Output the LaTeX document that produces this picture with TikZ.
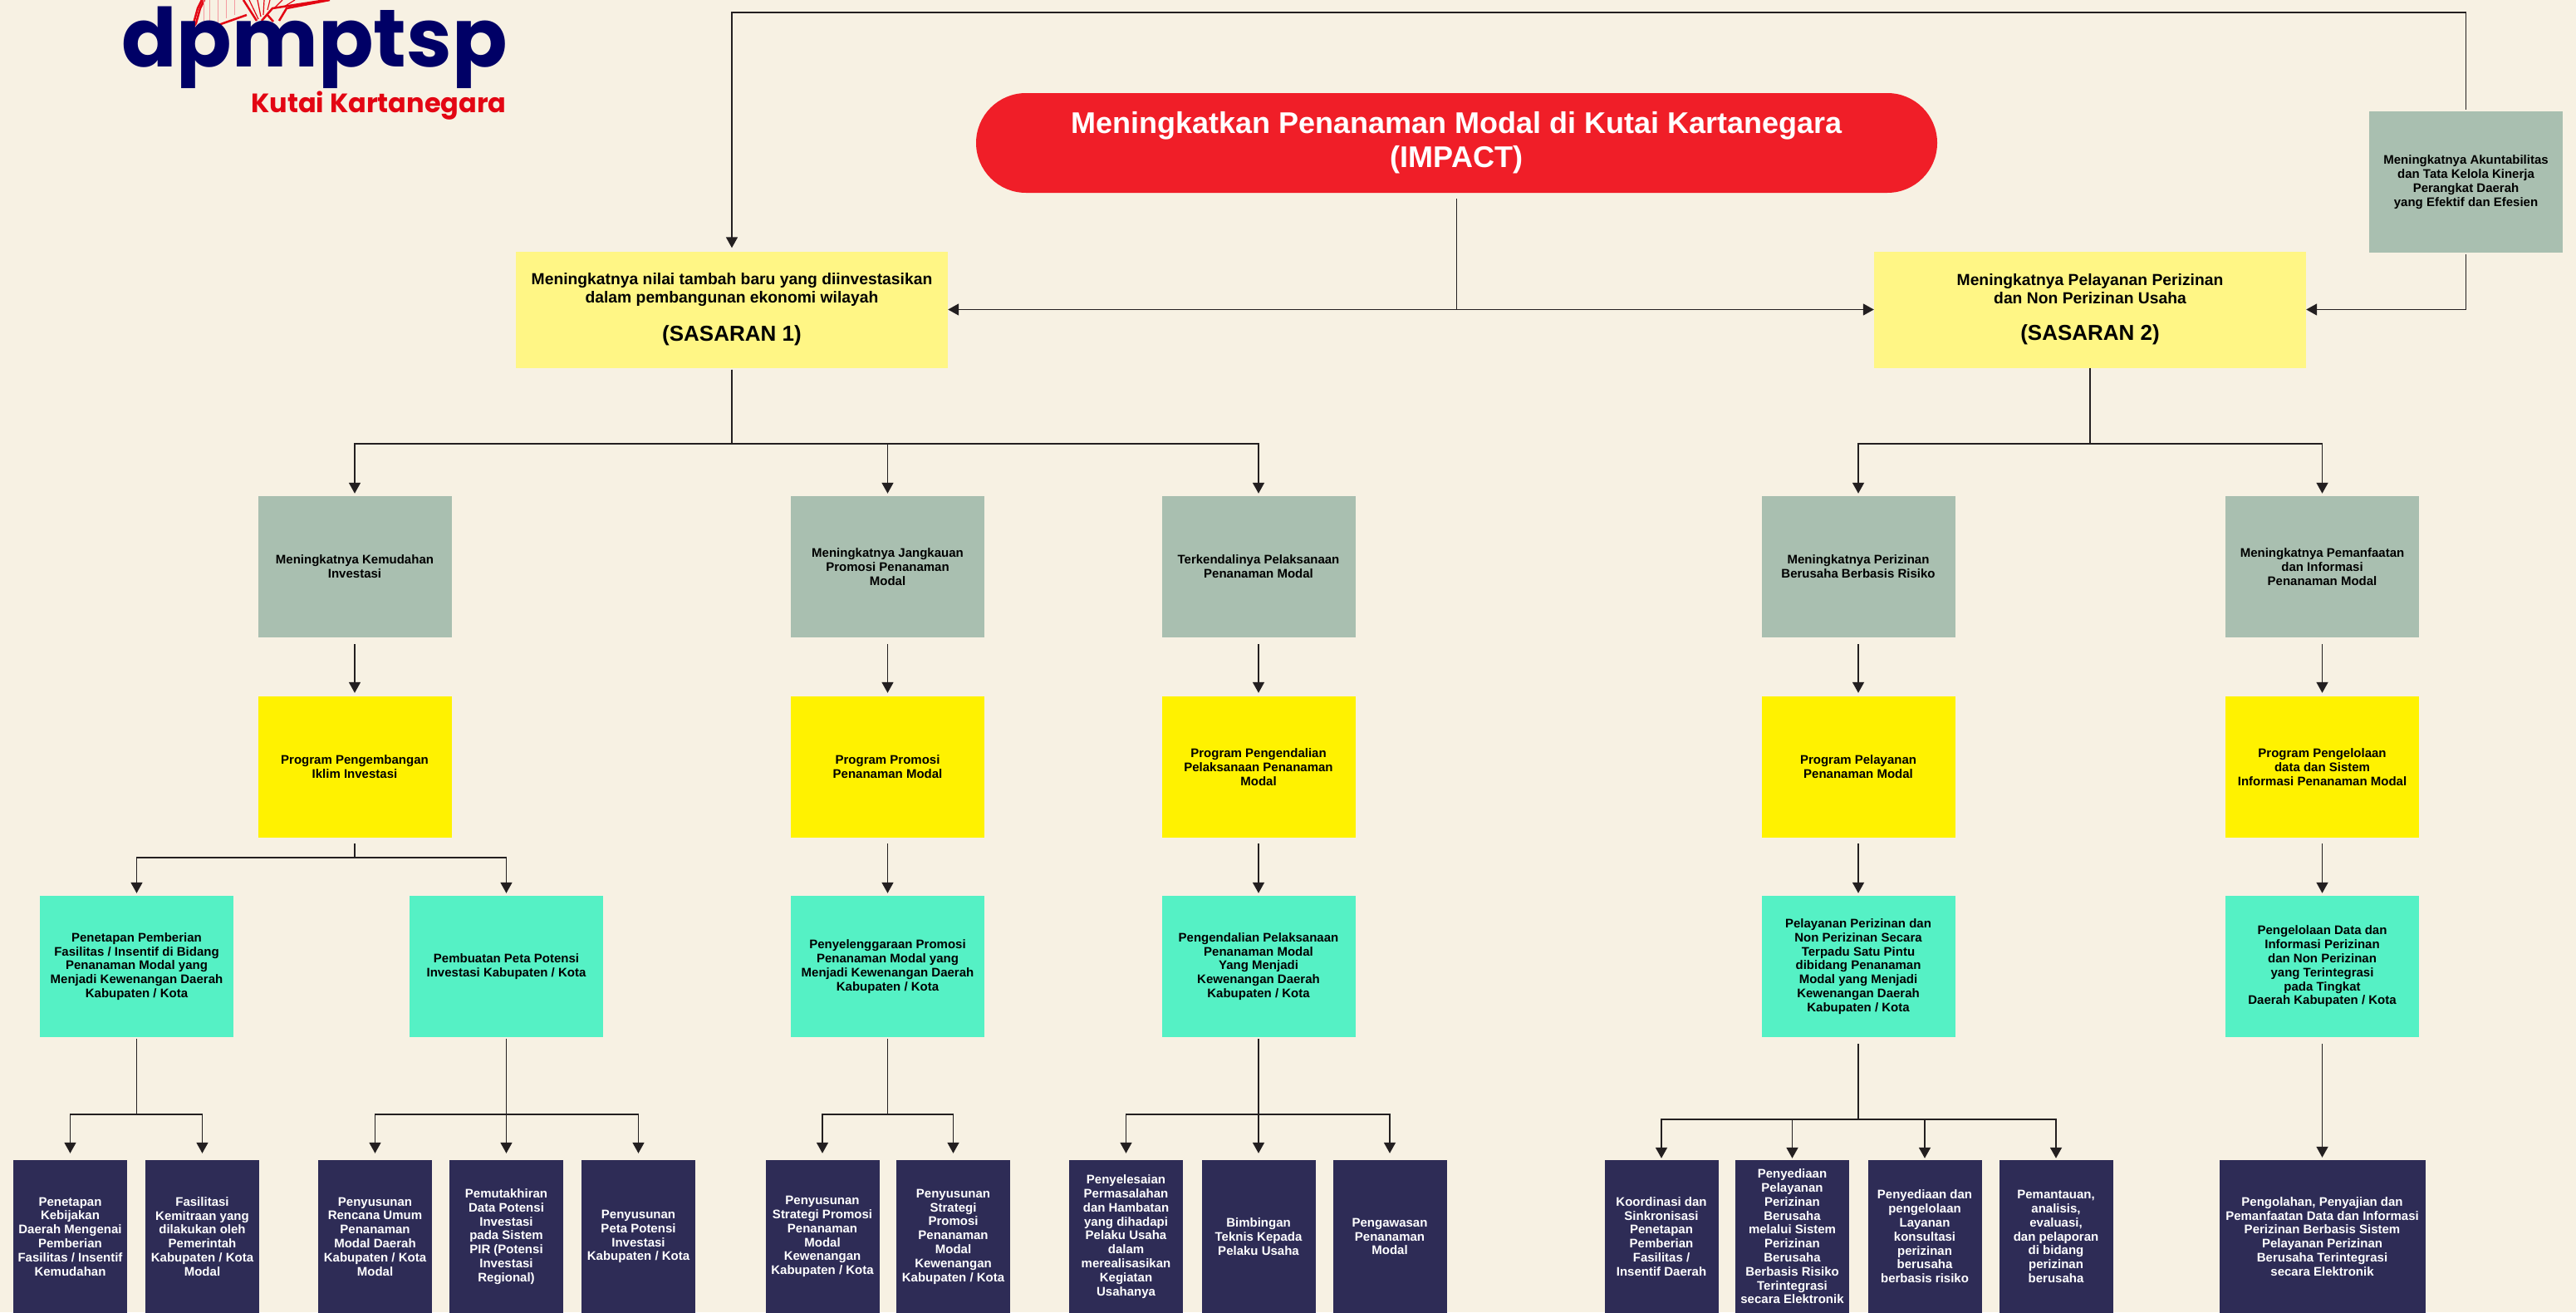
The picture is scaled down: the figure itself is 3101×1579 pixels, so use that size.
\documentclass[tikz,border=0pt]{standalone}
\usepackage{fontspec}
\usepackage{xcolor}
\setmainfont{Liberation Sans}
\newfontfamily\logofont{Poppins}
\usetikzlibrary{arrows.meta}
\definecolor{paper}{HTML}{F7F1E3}
\definecolor{impactred}{HTML}{F01E28}
\definecolor{softyellow}{HTML}{FFF685}
\definecolor{sagegray}{HTML}{A9BFB0}
\definecolor{progyellow}{HTML}{FFF200}
\definecolor{mintgreen}{HTML}{55F1C5}
\definecolor{darknavy}{HTML}{2E2C56}
\definecolor{wirecol}{HTML}{231F20}
\definecolor{logonavy}{HTML}{000066}
\definecolor{logored}{HTML}{E30613}

\begin{document}
\begin{tikzpicture}[x=1pt,y=-1pt]
\tikzset{box/.style={rectangle, inner sep=0pt, align=center, font=\bfseries\fontsize{15}{16.8}\selectfont}}
\tikzset{sasaran/.style={box, fill=softyellow, minimum width=520pt, minimum height=140pt, font=\bfseries\fontsize{19.3}{22}\selectfont}}
\tikzset{graybox/.style={box, fill=sagegray, minimum width=233pt, minimum height=170pt}}
\tikzset{progbox/.style={box, fill=progyellow, minimum width=233pt, minimum height=170pt}}
\tikzset{mintbox/.style={box, fill=mintgreen, minimum width=233pt, minimum height=170pt}}
\tikzset{navybox/.style={box, fill=darknavy, text=white, minimum width=137pt, minimum height=184pt}}
\tikzset{wire/.style={draw=wirecol, line width=1.7pt}}
\tikzset{arrow/.style={wire, -{Stealth[length=13pt,width=14pt,inset=0pt]}}}
\path[use as bounding box,clip] (0,0) rectangle (3101,1579);
\fill[paper] (0,0) rectangle (3101,1579);

\draw[logored, line width=2.5pt] (223,40) -- (233,28) -- (238,10) -- (243,0);
\draw[logored, line width=2.5pt] (228,40) -- (236,28) -- (241,10) -- (246,0);
\draw[logored!40, line width=1pt] (245,0) -- (245,25) (252,0) -- (252,28) (262,0) -- (262,28) (272,0) -- (272,22) (282,0) -- (282,18);
\draw[logored, line width=2.5pt] (263,30) -- (297,18);
\draw[logored, line width=2.5pt] (293,0) -- (309,25);
\draw[logored, line width=1.2pt] (300,0) -- (311,23) (310,0) -- (314,20) (318,0) -- (317,18) (325,0) -- (322,12) (340,0) -- (330,10) (355,0) -- (342,8);
\draw[logored, line width=2.5pt] (315,25) -- (328,10) -- (393,0);
\draw[logored, line width=2.5pt] (322,18) -- (329,26);
\draw[logored, line width=2.5pt] (336,25) -- (345,10) -- (397,0);
\node[text=logonavy, font=\logofont\bfseries\fontsize{98}{98}\selectfont, inner sep=0pt] (logotop) at (378.5,57) {dpmptsp};
\node[text=logored, font=\logofont\bfseries\fontsize{32}{32}\selectfont, inner sep=0pt] (logobot) at (456,127) {Kutai Kartanegara};

\node[fill=impactred, text=white, rounded corners=60pt, minimum width=1157pt, minimum height=120pt, inner sep=0pt, align=center, font=\bfseries\fontsize{36}{41}\selectfont] (impact) at (1753.5,172) {Meningkatkan Penanaman Modal di Kutai Kartanegara\\(IMPACT)};

\node[sasaran] (s1) at (881,372.5) {Meningkatnya nilai tambah baru yang diinvestasikan\\dalam pembangunan ekonomi wilayah\\[22pt]{\fontsize{26}{30}\selectfont (SASARAN 1)}};
\node[sasaran] (s2) at (2516,372.5) {Meningkatnya Pelayanan Perizinan\\dan Non Perizinan Usaha\\[22pt]{\fontsize{26}{30}\selectfont (SASARAN 2)}};
\node[graybox] (akun) at (2968.5,219) {Meningkatnya Akuntabilitas\\dan Tata Kelola Kinerja\\Perangkat Daerah\\yang Efektif dan Efesien};

\node[graybox] (g1) at (427,682) {Meningkatnya Kemudahan\\Investasi};
\node[graybox] (g2) at (1068.5,682) {Meningkatnya Jangkauan\\Promosi Penanaman\\Modal};
\node[graybox] (g3) at (1515,682) {Terkendalinya Pelaksanaan\\Penanaman Modal};
\node[graybox] (g4) at (2237,682) {Meningkatnya Perizinan\\Berusaha Berbasis Risiko};
\node[graybox] (g5) at (2795.5,682) {Meningkatnya Pemanfaatan\\dan Informasi\\Penanaman Modal};

\node[progbox] (y1) at (427,923) {Program Pengembangan\\Iklim Investasi};
\node[progbox] (y2) at (1068.5,923) {Program Promosi\\Penanaman Modal};
\node[progbox] (y3) at (1515,923) {Program Pengendalian\\Pelaksanaan Penanaman\\Modal};
\node[progbox] (y4) at (2237,923) {Program Pelayanan\\Penanaman Modal};
\node[progbox] (y5) at (2795.5,923) {Program Pengelolaan\\data dan Sistem\\Informasi Penanaman Modal};

\node[mintbox] (m1) at (164.5,1163) {Penetapan Pemberian\\Fasilitas / Insentif di Bidang\\Penanaman Modal yang\\Menjadi Kewenangan Daerah\\Kabupaten / Kota};
\node[mintbox] (m2) at (609.5,1163) {Pembuatan Peta Potensi\\Investasi Kabupaten / Kota};
\node[mintbox] (m3) at (1068.5,1163) {Penyelenggaraan Promosi\\Penanaman Modal yang\\Menjadi Kewenangan Daerah\\Kabupaten / Kota};
\node[mintbox] (m4) at (1515,1163) {Pengendalian Pelaksanaan\\Penanaman Modal\\Yang Menjadi\\Kewenangan Daerah\\Kabupaten / Kota};
\node[mintbox] (m5) at (2237,1163) {Pelayanan Perizinan dan\\Non Perizinan Secara\\Terpadu Satu Pintu\\dibidang Penanaman\\Modal yang Menjadi\\Kewenangan Daerah\\Kabupaten / Kota};
\node[mintbox] (m6) at (2795.5,1163) {Pengelolaan Data dan\\Informasi Perizinan\\dan Non Perizinan\\yang Terintegrasi\\pada Tingkat\\Daerah Kabupaten / Kota};

\node[navybox] (n1) at (84.5,1488) {Penetapan\\Kebijakan\\Daerah Mengenai\\Pemberian\\Fasilitas / Insentif\\Kemudahan};
\node[navybox] (n2) at (243.5,1488) {Fasilitasi\\Kemitraan yang\\dilakukan oleh\\Pemerintah\\Kabupaten / Kota\\Modal};
\node[navybox] (n3) at (451.5,1488) {Penyusunan\\Rencana Umum\\Penanaman\\Modal Daerah\\Kabupaten / Kota\\Modal};
\node[navybox] (n4) at (609.5,1488) {Pemutakhiran\\Data Potensi\\Investasi\\pada Sistem\\PIR (Potensi\\Investasi\\Regional)};
\node[navybox] (n5) at (768.5,1488) {Penyusunan\\Peta Potensi\\Investasi\\Kabupaten / Kota};
\node[navybox] (n6) at (990,1488) {Penyusunan\\Strategi Promosi\\Penanaman\\Modal\\Kewenangan\\Kabupaten / Kota};
\node[navybox] (n7) at (1147.5,1488) {Penyusunan\\Strategi\\Promosi\\Penanaman\\Modal\\Kewenangan\\Kabupaten / Kota};
\node[navybox] (n8) at (1355.5,1488) {Penyelesaian\\Permasalahan\\dan Hambatan\\yang dihadapi\\Pelaku Usaha\\dalam\\merealisasikan\\Kegiatan\\Usahanya};
\node[navybox] (n9) at (1515,1488) {Bimbingan\\Teknis Kepada\\Pelaku Usaha};
\node[navybox] (n10) at (1673,1488) {Pengawasan\\Penanaman\\Modal};
\node[navybox] (n11) at (2000,1488) {Koordinasi dan\\Sinkronisasi\\Penetapan\\Pemberian\\Fasilitas /\\Insentif Daerah};
\node[navybox] (n12) at (2157.5,1488) {Penyediaan\\Pelayanan\\Perizinan\\Berusaha\\melalui Sistem\\Perizinan\\Berusaha\\Berbasis Risiko\\Terintegrasi\\secara Elektronik};
\node[navybox] (n13) at (2317,1488) {Penyediaan dan\\pengelolaan\\Layanan\\konsultasi\\perizinan\\berusaha\\berbasis risiko};
\node[navybox] (n14) at (2475,1488) {Pemantauan,\\analisis,\\evaluasi,\\dan pelaporan\\di bidang\\perizinan\\berusaha};
\node[navybox, minimum width=248pt] (n15) at (2795.5,1488) {Pengolahan, Penyajian dan\\Pemanfaatan Data dan Informasi\\Perizinan Berbasis Sistem\\Pelayanan Perizinan\\Berusaha Terintegrasi\\secara Elektronik};

\coordinate (topl) at (881,15);
\coordinate (topr) at (2968.5,15);
\coordinate (mid) at (1753.5,372.5);
\coordinate (bus1) at (881,534);
\coordinate (bus2) at (2516,534);
\coordinate (bus3) at (427,1032);
\coordinate (bus4) at (164.5,1341);
\coordinate (bus5) at (609.5,1341);
\coordinate (bus6) at (1068.5,1341);
\coordinate (bus7) at (1515,1341);
\coordinate (bus8) at (2237,1347);

\draw[arrow, shorten <=2pt, shorten >=4pt] (akun.north) -- (topr) -- (topl) -- (s1.north);
\draw[arrow, shorten <=2pt] (akun.south) |- (s2.east);
\draw[wire, shorten <=7pt] (impact.south) -- (mid);
\draw[arrow] (mid) -- (s1.east);
\draw[arrow] (mid) -- (s2.west);

\draw[wire, shorten <=2pt] (s1.south) -- (bus1);
\draw[arrow, shorten >=3pt] (bus1) -| (g1.north);
\draw[arrow, shorten >=3pt] (bus1) -| (g2.north);
\draw[arrow, shorten >=3pt] (bus1) -| (g3.north);
\draw[wire] (s2.south) -- (bus2);
\draw[arrow, shorten >=3pt] (bus2) -| (g4.north);
\draw[arrow, shorten >=3pt] (bus2) -| (g5.north);

\draw[arrow, shorten <=8pt, shorten >=4pt] (g1.south) -- (y1.north);
\draw[arrow, shorten <=8pt, shorten >=4pt] (g2.south) -- (y2.north);
\draw[arrow, shorten <=8pt, shorten >=4pt] (g3.south) -- (y3.north);
\draw[arrow, shorten <=8pt, shorten >=4pt] (g4.south) -- (y4.north);
\draw[arrow, shorten <=8pt, shorten >=4pt] (g5.south) -- (y5.north);

\draw[wire, shorten <=7pt] (y1.south) -- (bus3);
\draw[arrow, shorten >=3pt] (bus3) -| (m1.north);
\draw[arrow, shorten >=3pt] (bus3) -| (m2.north);
\draw[arrow, shorten <=7pt, shorten >=3pt] (y2.south) -- (m3.north);
\draw[arrow, shorten <=7pt, shorten >=3pt] (y3.south) -- (m4.north);
\draw[arrow, shorten <=7pt, shorten >=3pt] (y4.south) -- (m5.north);
\draw[arrow, shorten <=7pt, shorten >=3pt] (y5.south) -- (m6.north);

\draw[wire, shorten <=2pt] (m1.south) -- (bus4);
\draw[arrow, shorten >=8pt] (bus4) -| (n1.north);
\draw[arrow, shorten >=8pt] (bus4) -| (n2.north);
\draw[wire, shorten <=2pt] (m2.south) -- (bus5);
\draw[arrow, shorten >=8pt] (bus5) -| (n3.north);
\draw[arrow, shorten >=8pt] (bus5) -- (n4.north);
\draw[arrow, shorten >=8pt] (bus5) -| (n5.north);
\draw[wire, shorten <=2pt] (m3.south) -- (bus6);
\draw[arrow, shorten >=8pt] (bus6) -| (n6.north);
\draw[arrow, shorten >=8pt] (bus6) -| (n7.north);
\draw[wire, shorten <=2pt] (m4.south) -- (bus7);
\draw[arrow, shorten >=8pt] (bus7) -| (n8.north);
\draw[arrow, shorten >=8pt] (bus7) -- (n9.north);
\draw[arrow, shorten >=8pt] (bus7) -| (n10.north);
\draw[wire, shorten <=8pt] (m5.south) -- (bus8);
\draw[arrow, shorten >=2pt] (bus8) -| (n11.north);
\draw[arrow, shorten >=2pt] (bus8) -| (n12.north);
\draw[arrow, shorten >=2pt] (bus8) -| (n13.north);
\draw[arrow, shorten >=2pt] (bus8) -| (n14.north);
\draw[arrow, shorten <=8pt, shorten >=3pt] (m6.south) -- (n15.north);
\end{tikzpicture}
\end{document}
